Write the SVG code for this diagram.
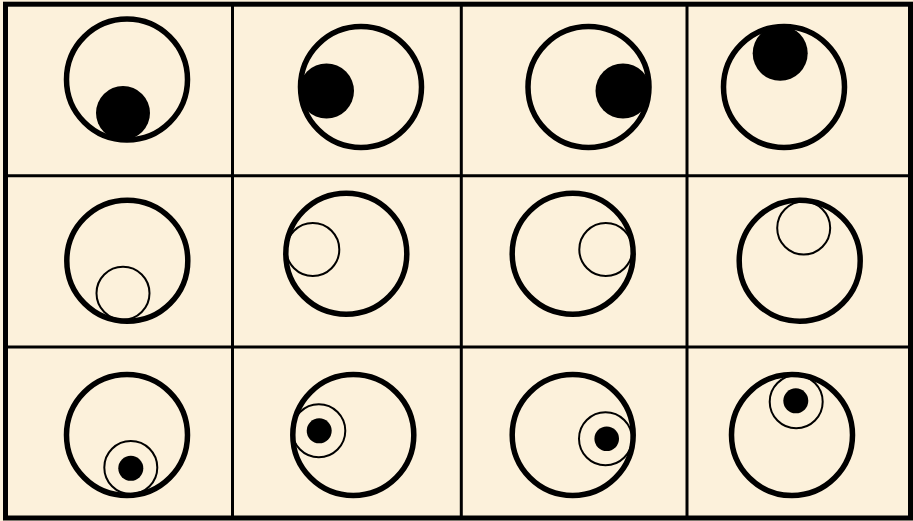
<svg xmlns="http://www.w3.org/2000/svg" width="913" height="521" viewBox="0 0 913 521">
<style>
.big{fill:none;stroke:#000;stroke-width:5.5}
.small{fill:none;stroke:#000;stroke-width:2}
.dot{fill:#000}
.grid{stroke:#000;stroke-width:3;fill:none}
</style>
<rect x="0" y="0" width="913" height="521" fill="#FCF1DB"/>
<g id="grid">
<line class="grid" x1="232.5" y1="4" x2="232.5" y2="518"/>
<line class="grid" x1="461.3" y1="4" x2="461.3" y2="518"/>
<line class="grid" x1="687" y1="4" x2="687" y2="518"/>
<line class="grid" x1="5" y1="175.7" x2="910" y2="175.7"/>
<line class="grid" x1="5" y1="347" x2="910" y2="347"/>
<rect x="5.5" y="4.2" width="905" height="513.8" fill="none" stroke="#000" stroke-width="5"/>
</g>
<g id="cell-1-1"><circle class="big" cx="127" cy="79.5" r="60.5"/><circle class="dot" cx="123" cy="113" r="27"/></g>
<g id="cell-1-2"><circle class="big" cx="361" cy="87" r="60.5"/><circle class="dot" cx="326.5" cy="91" r="27.5"/></g>
<g id="cell-1-3"><circle class="big" cx="588.5" cy="87" r="60.5"/><circle class="dot" cx="623" cy="91" r="27.5"/></g>
<g id="cell-1-4"><circle class="big" cx="784" cy="87" r="60.5"/><circle class="dot" cx="780.2" cy="53.3" r="27.5"/></g>
<g id="cell-2-1"><circle class="big" cx="127.3" cy="260.7" r="60.5"/><circle class="small" cx="123" cy="293.3" r="26.5"/></g>
<g id="cell-2-2"><circle class="big" cx="346.3" cy="253.7" r="60.5"/><circle class="small" cx="312.8" cy="249.5" r="26.5"/></g>
<g id="cell-2-3"><circle class="big" cx="572.7" cy="253.7" r="60.5"/><circle class="small" cx="605.8" cy="249.5" r="26.5"/></g>
<g id="cell-2-4"><circle class="big" cx="799.7" cy="260.7" r="60.5"/><circle class="small" cx="803.7" cy="228" r="26.5"/></g>
<g id="cell-3-1"><circle class="big" cx="127" cy="435" r="60.5"/><circle class="small" cx="130.8" cy="467.5" r="26.5"/><circle class="dot" cx="130.8" cy="468.3" r="12.5"/></g>
<g id="cell-3-2"><circle class="big" cx="353.3" cy="435" r="60.5"/><circle class="small" cx="318.8" cy="430.8" r="26.5"/><circle class="dot" cx="319.2" cy="430.8" r="12.5"/></g>
<g id="cell-3-3"><circle class="big" cx="572.7" cy="435" r="60.5"/><circle class="small" cx="605.5" cy="438.8" r="26.5"/><circle class="dot" cx="606.7" cy="438.8" r="12.3"/></g>
<g id="cell-3-4"><circle class="big" cx="792" cy="435" r="60.5"/><circle class="small" cx="796.2" cy="401.7" r="26.5"/><circle class="dot" cx="795.8" cy="400.8" r="12.5"/></g>
</svg>
